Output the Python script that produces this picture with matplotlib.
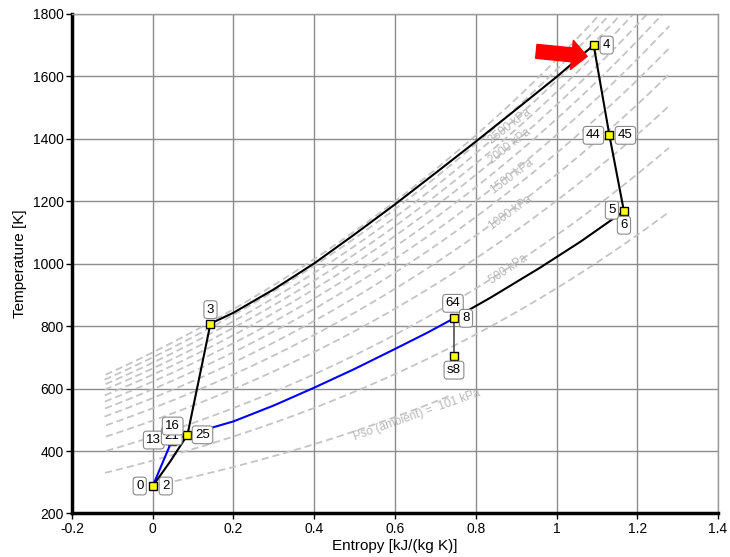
import numpy as np
import matplotlib
matplotlib.use('Agg')
import matplotlib.pyplot as plt

plt.rcParams['font.family'] = ['Liberation Sans', 'DejaVu Sans']

# axis ticks
x_ticks = [-0.2, 0, 0.2, 0.4, 0.6, 0.8, 1.0, 1.2, 1.4]
x_tick_labels = ['-0.2', '0', '0.2', '0.4', '0.6', '0.8', '1', '1.2', '1.4']
y_ticks = [200, 400, 600, 800, 1000, 1200, 1400, 1600, 1800]

# isobars (kPa), ambient isobar drawn separately
isobar_p = [250, 500, 750, 1000, 1250, 1500, 1750, 2000, 2250, 2500, 2750, 3000]
isobar_labels = {500: '500 kPa', 1000: '1000 kPa', 1500: '1500 kPa',
                 2000: '2000 kPa', 2500: '2500 kPa'}
p_amb = 101.0
t_amb = 288.0

# cycle state points (entropy kJ/(kg K), temperature K)
state_s = [0.0, 0.047, 0.086, 0.143, 1.092, 1.131, 1.167, 0.746, 0.746]
state_t = [288, 432, 452, 808, 1700, 1411, 1168, 825, 704]

# point labels: text, state index, offset in pixels
point_labels = [('0', 0, -13, 0), ('2', 0, 13, 0),
                ('13', 1, -18, 1), ('21', 1, 0, 5), ('16', 1, 1, 15),
                ('25', 2, 15, 0), ('3', 3, 0, 14), ('4', 4, 13, 0),
                ('44', 5, -16, 0), ('45', 5, 16, 0),
                ('5', 6, -12, 1), ('6', 6, 0, -14),
                ('64', 7, -1, 15), ('8', 7, 12, 0), ('s8', 8, 0, -14)]

# process paths
comp_s = [0.0, 0.043, 0.086, 0.143]
comp_t = [288, 366, 452, 808]
heat_s = [0.143, 0.2, 0.3, 0.4, 0.5, 0.6, 0.7, 0.8, 0.9, 1.0, 1.092]
heat_t = [808, 843, 918, 1001, 1094, 1190, 1290, 1391, 1494, 1598, 1700]
turb_s = [1.092, 1.131, 1.167]
turb_t = [1700, 1411, 1168]
exh_s = [1.167, 1.06, 0.959, 0.835, 0.746]
exh_t = [1168, 1071, 987, 890, 825]
regen_s = [0.0, 0.047, 0.086, 0.2, 0.3, 0.4, 0.5, 0.6, 0.68, 0.746]
regen_t = [288, 432, 452, 495, 546, 603, 663, 727, 779, 825]


# ideal gas air properties for the isobars
CP_COEF = (28.11, 0.1967e-2, 0.4802e-5, -1.966e-9)
M_AIR = 28.97
R_AIR = 0.287
S_SCALE = 1.035


def s_std(T):
    a, b, c, d = CP_COEF
    return (a*np.log(T) + b*T + c*T**2/2 + d*T**3/3) / M_AIR


def isobar_s(P, T):
    return S_SCALE*(s_std(T) - s_std(t_amb)) - R_AIR*np.log(P/p_amb)


fig = plt.figure(figsize=(7.3, 5.57), dpi=100)
ax = fig.add_axes([0.0986, 0.0781, 0.885, 0.897])

dash_col = '#c4c4c4'
dash = (0, (4, 2.2))
T_grid = np.linspace(200, 2600, 1200)
for P in isobar_p:
    s = isobar_s(P, T_grid)
    m = (s >= -0.12) & (s <= 1.28)
    ax.plot(s[m], T_grid[m], ls=dash, color=dash_col, lw=1.3, zorder=1)

s = isobar_s(p_amb, T_grid)
m = (s >= 0) & (s <= 0.745)
ax.plot(s[m], T_grid[m], ls=dash, color=dash_col, lw=1.3, zorder=1)

# isobar labels
lab_pos = {500: (0.880, 982, 34), 1000: (0.885, 1163, 36), 1500: (0.889, 1280, 37),
           2000: (0.885, 1376, 38), 2500: (0.885, 1440, 38)}
for P, txt in isobar_labels.items():
    xs, yt, rot = lab_pos[P]
    ax.text(xs, yt, txt, fontsize=8.5, color='#b8b8b8', rotation=rot,
            ha='center', va='center', rotation_mode='anchor', zorder=2)
ax.text(0.654, 514, 'Pso (ambient) =  101 kPa', fontsize=8.5, color='#b8b8b8',
        rotation=19.5, ha='center', va='center', rotation_mode='anchor', zorder=2)

# process lines
ax.plot(regen_s, regen_t, color='#0000ff', lw=1.5, zorder=3)
ax.plot(comp_s, comp_t, color='black', lw=1.5, zorder=3)
ax.plot(heat_s, heat_t, color='black', lw=1.5, zorder=3)
ax.plot(turb_s, turb_t, color='black', lw=1.5, zorder=3)
ax.plot(exh_s, exh_t, color='black', lw=1.5, zorder=3)
ax.plot([state_s[7], state_s[8]], [state_t[7], state_t[8]], color='#505050', lw=1.2, zorder=3)

ax.plot(state_s, state_t, 's', ms=6, mfc='#ffff00', mec='black', mew=1, ls='none', zorder=4)

box = dict(boxstyle='round,pad=0.22,rounding_size=0.25', fc='white', ec='#8a8a8a', lw=0.8)
for txt, i, dx, dy in point_labels:
    ax.annotate(txt, (state_s[i], state_t[i]), xytext=(dx, dy), textcoords='offset pixels',
                ha='center', va='center', fontsize=9.5, bbox=box, zorder=5)

# red arrow pointing at state 4
ax.annotate('', xy=(1.076, 1664), xytext=(0.950, 1680),
            arrowprops=dict(arrowstyle='simple,head_length=11,head_width=21,tail_width=10',
                            mutation_scale=1, color='#ff0000', shrinkA=0, shrinkB=0),
            zorder=6)

ax.set_xlim(-0.2, 1.4)
ax.set_ylim(200, 1800)
ax.set_xticks(x_ticks)
ax.set_xticklabels(x_tick_labels)
ax.set_yticks(y_ticks)
ax.tick_params(labelsize=10, length=4, width=1, color='black', pad=2)
ax.grid(True, color='#8c8c8c', lw=1, zorder=0)
ax.set_axisbelow(True)
for side in ['left', 'bottom']:
    ax.spines[side].set_linewidth(2.5)
    ax.spines[side].set_color('black')
for side in ['top', 'right']:
    ax.spines[side].set_linewidth(1)
    ax.spines[side].set_color('#9a9a9a')

ax.set_xlabel('Entropy [kJ/(kg K)]', fontsize=11, labelpad=2)
ax.set_ylabel('Temperature [K]', fontsize=11, labelpad=4)

fig.savefig('out.png', dpi=100)
